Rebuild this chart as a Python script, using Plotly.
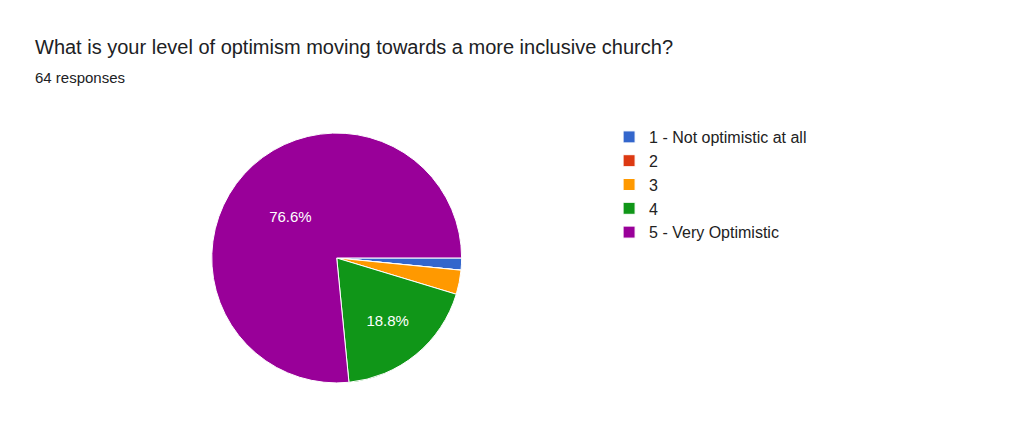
import plotly.graph_objects as go

labels = ["1 - Not optimistic at all", "2", "3", "4", "5 - Very Optimistic"]
values = [1, 0, 2, 12, 49]
colors = ["#3366cc", "#dc3912", "#ff9900", "#109618", "#990099"]
shown = ["", "", "", "%{percent:.1%}", "%{percent:.1%}"]

fig = go.Figure(go.Pie(
    labels=labels, values=values, sort=False, direction="clockwise", rotation=90,
    marker=dict(colors=colors, line=dict(color="white", width=1)),
    texttemplate=shown, textposition="inside", insidetextorientation="horizontal",
    textfont=dict(color="white", size=15, family="Arial, Liberation Sans"),
    hoverinfo="label+percent", domain=dict(x=[0.199, 0.443], y=[0.13, 0.71]),
))
fig.update_layout(
    width=1024, height=431, margin=dict(l=0, r=0, t=0, b=0),
    paper_bgcolor="white", font=dict(family="Arial, Liberation Sans", color="#202124"),
    annotations=[
        dict(text="What is your level of optimism moving towards a more inclusive church?",
             x=25/1024, y=1-39/431, xref="paper", yref="paper", xanchor="left", yanchor="middle",
             showarrow=False, font=dict(size=20, color="#202124")),
        dict(text="64 responses", x=25/1024, y=1-69/431, xref="paper", yref="paper",
             xanchor="left", yanchor="middle", showarrow=False, font=dict(size=15, color="#202124")),
    ],
    legend=dict(x=0.587, y=1-112/431, xanchor="left", yanchor="top",
                font=dict(size=16, color="#222"), tracegroupgap=0, itemwidth=30),
)
fig.write_html("out.html")
